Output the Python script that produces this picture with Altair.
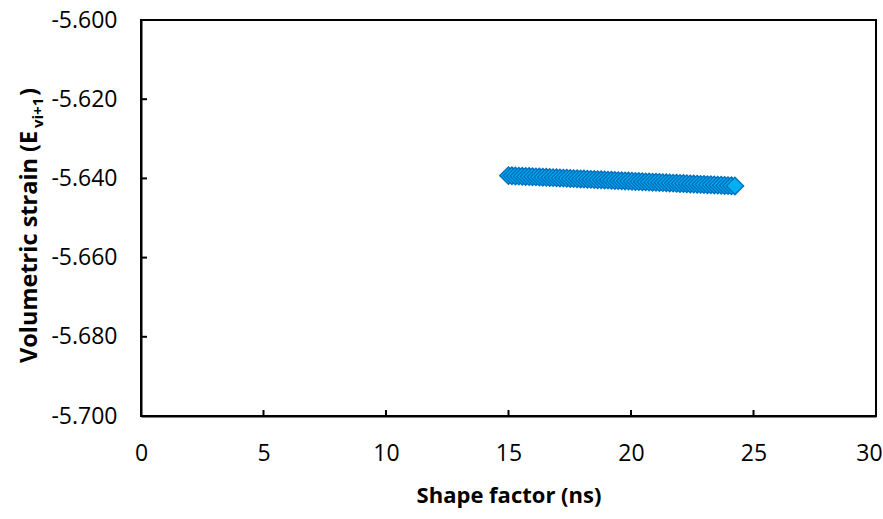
import altair as alt
import pandas as pd

shape_factor = [15.00, 15.14, 15.28, 15.42, 15.56, 15.70, 15.84, 15.98, 16.12, 16.26,
                16.40, 16.54, 16.68, 16.82, 16.96, 17.10, 17.24, 17.38, 17.52, 17.66,
                17.80, 17.94, 18.08, 18.22, 18.36, 18.50, 18.64, 18.78, 18.92, 19.06,
                19.20, 19.34, 19.48, 19.62, 19.76, 19.90, 20.04, 20.18, 20.32, 20.46,
                20.60, 20.74, 20.88, 21.02, 21.16, 21.30, 21.44, 21.58, 21.72, 21.86,
                22.00, 22.14, 22.28, 22.42, 22.56, 22.70, 22.84, 22.98, 23.12, 23.26,
                23.40, 23.54, 23.68, 23.82, 23.96, 24.10, 24.24]
vol_strain = [-5.63930, -5.63934, -5.63938, -5.63942, -5.63946, -5.63950, -5.63954, -5.63958, -5.63962, -5.63965,
              -5.63969, -5.63973, -5.63977, -5.63981, -5.63985, -5.63989, -5.63993, -5.63997, -5.64001, -5.64005,
              -5.64009, -5.64013, -5.64017, -5.64021, -5.64025, -5.64029, -5.64032, -5.64036, -5.64040, -5.64044,
              -5.64048, -5.64052, -5.64056, -5.64060, -5.64064, -5.64068, -5.64072, -5.64076, -5.64080, -5.64084,
              -5.64088, -5.64092, -5.64095, -5.64099, -5.64103, -5.64107, -5.64111, -5.64115, -5.64119, -5.64123,
              -5.64127, -5.64131, -5.64135, -5.64139, -5.64143, -5.64147, -5.64151, -5.64155, -5.64158, -5.64162,
              -5.64166, -5.64170, -5.64174, -5.64178, -5.64182, -5.64186, -5.64190]

x_ticks = [0, 5, 10, 15, 20, 25, 30]
y_ticks = [-5.700, -5.680, -5.660, -5.640, -5.620, -5.600]

x_title = "Shape factor (ns)"
y_title_main = "Volumetric strain (E"
y_title_sub = "vi+1"
y_title_end = ")"

FONT = "Open Sans"

df = pd.DataFrame({"x": shape_factor, "y": vol_strain, "order": list(range(len(shape_factor)))})
xt = pd.DataFrame({"x": x_ticks[1:-1]})
yt = pd.DataFrame({"y": y_ticks[1:-1]})

xscale = alt.Scale(domain=[0, 30], nice=False, zero=False)
yscale = alt.Scale(domain=[-5.7, -5.6], nice=False, zero=False)

points = alt.Chart(df).mark_point(
    shape="diamond", filled=True, size=300, fill="#00B0F0", stroke="#0070C0",
    strokeWidth=1.5, opacity=1
).encode(
    x=alt.X("x:Q", scale=xscale, axis=alt.Axis(
        values=x_ticks, format="d", title=x_title, grid=False,
        tickSize=0, labelPadding=26, labelFontSize=23, labelFont=FONT, labelColor="#000000",
        labelOffset={"condition": {"test": "datum.value == 30", "value": -7}, "value": 0},
        domainColor="#000000", domainWidth=2, titleFontSize=22, titleFont=FONT,
        titleFontWeight="bold", titleColor="#000000", titlePadding=20, labelFlush=False)),
    y=alt.Y("y:Q", scale=yscale, axis=alt.Axis(
        values=y_ticks, title=None, grid=False,
        labelExpr="replace(format(datum.value, '.3f'), '\u2212', '-')",
        tickSize=0, labelPadding=24, labelFontSize=23, labelFont=FONT, labelColor="#000000",
        domainColor="#000000", domainWidth=2, labelFlush=False)),
    order="order:Q",
)

xticks = alt.Chart(xt).mark_rule(color="#000000", strokeWidth=2).encode(
    x=alt.X("x:Q", scale=xscale), y=alt.value(396), y2=alt.value(390))
yticks = alt.Chart(yt).mark_rule(color="#000000", strokeWidth=2).encode(
    y=alt.Y("y:Q", scale=yscale), x=alt.value(0), x2=alt.value(6))

title_main = alt.Chart(pd.DataFrame({"t": [y_title_main]})).mark_text(
    angle=270, align="left", baseline="alphabetic", font=FONT, fontSize=23.5,
    fontWeight="bold", color="#000000"
).encode(text="t:N", x=alt.value(-104), y=alt.value(343))

title_sub = alt.Chart(pd.DataFrame({"t": [y_title_sub]})).mark_text(
    angle=270, align="left", baseline="alphabetic", font=FONT, fontSize=15,
    fontWeight="bold", color="#000000"
).encode(text="t:N", x=alt.value(-98), y=alt.value(108))

title_end = alt.Chart(pd.DataFrame({"t": [y_title_end]})).mark_text(
    angle=270, align="left", baseline="alphabetic", font=FONT, fontSize=23.5,
    fontWeight="bold", color="#000000"
).encode(text="t:N", x=alt.value(-104), y=alt.value(76))

chart = alt.layer(points, xticks, yticks, title_main, title_sub, title_end).properties(
    width=735, height=396,
    autosize=alt.AutoSizeParams(type="none"),
    padding={"left": 141, "top": 20, "right": 7, "bottom": 103},
    background="#ffffff",
).configure_view(stroke="#000000", strokeWidth=2)

chart.save("out.html", embed_options={"renderer": "svg", "actions": False})
